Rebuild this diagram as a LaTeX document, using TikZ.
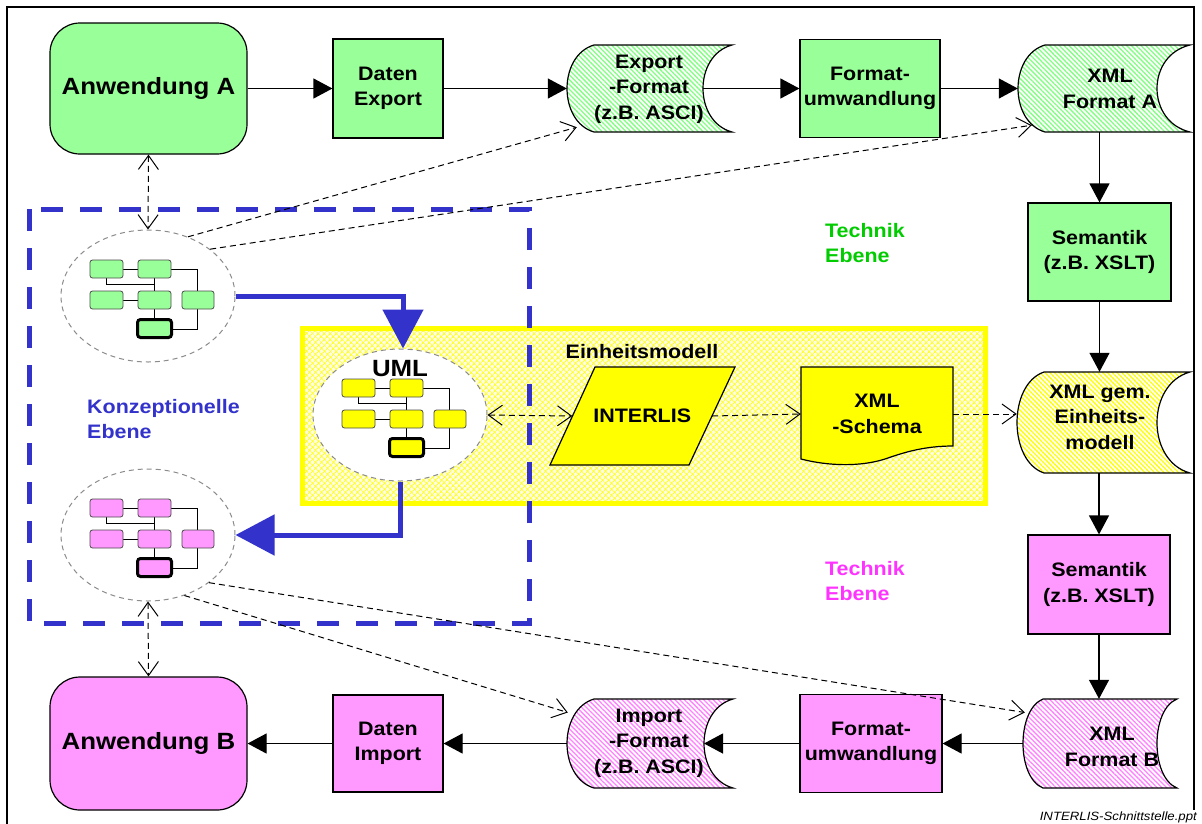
\documentclass[tikz,border=0pt]{standalone}
\usepackage{fontspec}
\setmainfont{Liberation Sans}[FakeStretch=1.1]
\usetikzlibrary{arrows.meta,shapes.geometric,patterns.meta,calc}

\definecolor{gfill}{RGB}{153,255,153}
\definecolor{pfill}{RGB}{255,153,255}
\definecolor{yfill}{RGB}{255,255,0}
\definecolor{cblue}{RGB}{51,51,204}
\definecolor{tgreen}{RGB}{0,204,0}
\definecolor{tpink}{RGB}{255,51,255}
\definecolor{egray}{RGB}{140,140,140}

\tikzset{
  lbl/.style={font=\bfseries\fontsize{19.5}{25.5}\selectfont, align=center, inner sep=0pt},
  bigl/.style={font=\bfseries\fontsize{23.5}{28}\selectfont, inner sep=0pt},
  appbox/.style={draw=black, line width=1.2pt, rounded corners=30pt,
    minimum width=197pt, minimum height=131pt, inner sep=0pt,
    font=\bfseries\fontsize{23.5}{28}\selectfont},
  procbox/.style={draw=black, line width=1.2pt, inner sep=0pt, align=center,
    font=\bfseries\fontsize{19.5}{25.5}\selectfont},
  gstore/.style={preaction={fill=white}, pattern={Lines[angle=-45,distance=3.4pt,line width=1.3pt]},
    pattern color=gfill!85!green, draw=black, line width=1.2pt},
  pstore/.style={preaction={fill=white}, pattern={Lines[angle=-45,distance=3.4pt,line width=1.3pt]},
    pattern color=pfill!85!magenta, draw=black, line width=1.2pt},
  ystore/.style={preaction={fill=white}, pattern={Lines[angle=-45,distance=3.4pt,line width=1.3pt]},
    pattern color=yfill, draw=black, line width=1.2pt},
  yshape/.style={fill=yfill, draw=black, line width=1.2pt},
  arr/.style={line width=1.2pt, -{Triangle[length=19pt,width=20pt]}},
  darr/.style={line width=1pt, dash pattern=on 6pt off 4pt,
    -{Straight Barb[length=14pt,width=20pt]}},
  dbl/.style={line width=1pt, dash pattern=on 6pt off 4pt,
    {Straight Barb[length=14pt,width=20pt]}-{Straight Barb[length=14pt,width=20pt]}},
  barr/.style={cblue, line width=5pt, -{Triangle[length=39pt,width=40pt]}},
  cloudell/.style={ellipse, draw=egray, line width=1pt, dash pattern=on 5pt off 4pt,
    fill=white, minimum width=174pt, minimum height=132pt, inner sep=0pt},
  minibox/.style={draw=black!70, line width=0.8pt, rounded corners=2.5pt,
    minimum width=33pt, minimum height=18pt, inner sep=0pt},
  minikey/.style={draw=black, line width=3pt, rounded corners=3pt,
    minimum width=34pt, minimum height=18pt, inner sep=0pt},
  minilink/.style={line width=1pt, black},
}

% stored-data outline: style, name, left, top, right, bottom, left bulge, right hollow
\newcommand\datastore[8]{%
  \pgfmathsetmacro\dsh{0.12*(#6-#4)}%
  \path[#1] ({#3+#7},#4) -- (#5,#4)
    .. controls ({#5-1.333*#8},{#4+\dsh}) and ({#5-1.333*#8},{#6-\dsh}) .. (#5,#6)
    -- ({#3+#7},#6)
    .. controls ({#3-0.333*#7},{#6-\dsh}) and ({#3-0.333*#7},{#4+\dsh}) .. ({#3+#7},#4) -- cycle;
  \node[inner sep=0pt, minimum width={#5-#3}, minimum height={#6-#4}] (#2)
    at ({(#3+#5)/2},{(#4+#6)/2}) {};
  \coordinate (#2-c) at ({#5-#8},{(#4+#6)/2});
}

% small class diagram: name prefix, centre, fill colour
\newcommand\minimodel[3]{%
  \begin{scope}[shift={(#2)}]
    \draw[minilink] (-41.5,-18) -- (-41.5,-12) -- (6.5,-12);
    \draw[minilink] (-25,-27) -- (-10,-27);
    \draw[minilink] (23,-27) -- (49.5,-27) -- (49.5,-5);
    \draw[minilink] (6.5,-18) -- (6.5,-5);
    \draw[minilink] (-25,4) -- (-10,4);
    \draw[minilink] (6.5,13) -- (6.5,23);
    \draw[minilink] (49.5,13) -- (49.5,33) -- (24,33);
    \node[minibox, fill=#3] (#1-1) at (-41.5,-27) {};
    \node[minibox, fill=#3] (#1-2) at (6.5,-27) {};
    \node[minibox, fill=#3] (#1-3) at (-41.5,4) {};
    \node[minibox, fill=#3] (#1-4) at (6.5,4) {};
    \node[minibox, fill=#3, minimum width=32pt] (#1-5) at (50,4) {};
    \node[minikey, fill=#3] (#1-6) at (6.5,32.5) {};
  \end{scope}%
}

\begin{document}
\begin{tikzpicture}[x=1pt,y=-1pt]
\useasboundingbox (0,0) rectangle (1202,823);

% outer frame
\draw[line width=2.5pt] (7,7) rectangle (1194,845);

% unified model area
\path[preaction={fill=yellow!12}, pattern={Hatch[angle=45,distance=4pt,line width=0.9pt]},
  pattern color=yellow!85, draw=yfill, line width=5pt] (302,328) rectangle (985,503);

% conceptual level frame
\draw[cblue, line width=5pt, dash pattern=on 22pt off 17pt] (29,209) rectangle (529,623);

% top row: application A to XML format A
\node[appbox, fill=gfill] (aa) at (148.5,88.5) {Anwendung A};
\node[procbox, fill=gfill, minimum width=110pt, minimum height=99pt] (de) at (388,88.5) {Daten\\Export};
\datastore{gstore}{ef}{567}{45}{732}{132}{27}{29}
\node[lbl] (ef-t) at (649,89) {Export\\-Format\\(z.B. ASCI)};
\node[procbox, fill=gfill, minimum width=140pt, minimum height=98pt] (fa) at (870,88.5) {Format-\\umwandlung};
\datastore{gstore}{xa}{1018}{45}{1190}{132}{27}{33}
\node[lbl] (xa-t) at (1110,89) {XML\\Format A};

% right column
\node[procbox, fill=gfill, minimum width=143pt, minimum height=98pt] (sa) at (1099.5,252) {Semantik\\(z.B. XSLT)};
\datastore{ystore}{xg}{1017}{372}{1190}{473}{27}{33}
\node[lbl] (xg-t) at (1100,417) {XML gem.\\Einheits-\\modell};
\node[procbox, fill=pfill, minimum width=142pt, minimum height=99pt] (sb) at (1099,584.5) {Semantik\\(z.B. XSLT)};

% bottom row: XML format B to application B
\datastore{pstore}{xb}{1023}{699}{1177}{788}{20}{20}
\node[lbl] (xb-t) at (1112,747) {XML\\Format B};
\node[procbox, fill=pfill, minimum width=142pt, minimum height=98pt] (fb) at (871,743.5) {Format-\\umwandlung};
\datastore{pstore}{im}{567}{699}{733}{788}{27}{29}
\node[lbl] (im-t) at (649,743) {Import\\-Format\\(z.B. ASCI)};
\node[procbox, fill=pfill, minimum width=110pt, minimum height=97pt] (di) at (388,743.5) {Daten\\Import};
\node[appbox, fill=pfill, minimum height=133pt] (ab) at (148.5,743.5) {Anwendung B};

% conceptual models
\node[cloudell] (ge) at (148,296) {};
\minimodel{gm}{148,296}{gfill}
\node[cloudell] (uml) at (400,415) {};
\minimodel{um}{400,415}{yfill}
\node[bigl] (uml-t) at (400,369) {UML};
\node[cloudell] (pe) at (148,535) {};
\minimodel{pm}{148,535}{pfill}

% INTERLIS and XML schema
\node[lbl] (em) at (642,352) {Einheitsmodell};
\path[yshape] (595,367) -- (735,367) -- (689,465) -- (550,465) -- cycle;
\node[lbl, minimum width=139.5pt] (il) at (642.25,416) {INTERLIS};
\path[yshape] (801,367) -- (953,367) -- (953,446)
  .. controls (925,446) and (905,452) .. (885,459)
  .. controls (860,467) and (828,466) .. (801,459) -- cycle;
\node[lbl, minimum width=152pt] (xs) at (877,414) {XML\\-Schema};

% data flow
\draw[arr] (aa.east) -- (de.west);
\draw[arr] (de.east) -- (ef.west);
\draw[arr] (ef-c) -- (fa.west);
\draw[arr] (fa.east) -- (xa.west);
\draw[arr] (sa.north |- xa.south) -- (sa.north);
\draw[arr] (sa.south) -- (sa.south |- xg.north);
\draw[arr] (sb.north |- xg.south) -- (sb.north);
\draw[arr] (sb.south) -- (sb.south |- xb.north);
\draw[arr] (xb.west) -- (fb.east);
\draw[arr] (fb.west) -- (im-c);
\draw[arr] (im.west) -- (di.east);
\draw[arr] (di.west) -- (ab.east);

% dashed references
\draw[dbl] (aa.south) -- (ge.north);
\draw[darr] (ge.56) -- ($(ef.south west)+(10,-5)$);
\draw[darr] (ge.37) -- ($(xa.south west)+(14,-7)$);
\draw[darr] (pe.-38) -- ($(xb.west)+(2,-31)$);
\draw[darr] (pe.-59) -- ($(im.west)+(1,-31)$);
\draw[dbl] (pe.south) -- (ab.north);
\draw[dbl] (uml.east) -- (il.west);
\draw[darr] (il.east) -- (xs.west);
\draw[darr] (xs.east) -- (xs.east -| xg.west);

% model transformation
\draw[barr] (ge.east) -| ($(uml.north)+(3,0)$);
\draw[barr] (uml.south) |- (pe.east);

% level labels
\node[lbl, align=left, anchor=west, text=tgreen] (tg) at (825,243) {Technik\\Ebene};
\node[lbl, align=left, anchor=west, text=tpink] (tp) at (825,581) {Technik\\Ebene};
\node[lbl, align=left, anchor=west, text=cblue] (ke) at (87,419) {Konzeptionelle\\Ebene};

\node[anchor=base east, fill=white, inner sep=1pt, font=\itshape\fontsize{12}{14}\selectfont] (ft)
  at (1198,820) {INTERLIS-Schnittstelle.ppt};
\end{tikzpicture}
\end{document}
